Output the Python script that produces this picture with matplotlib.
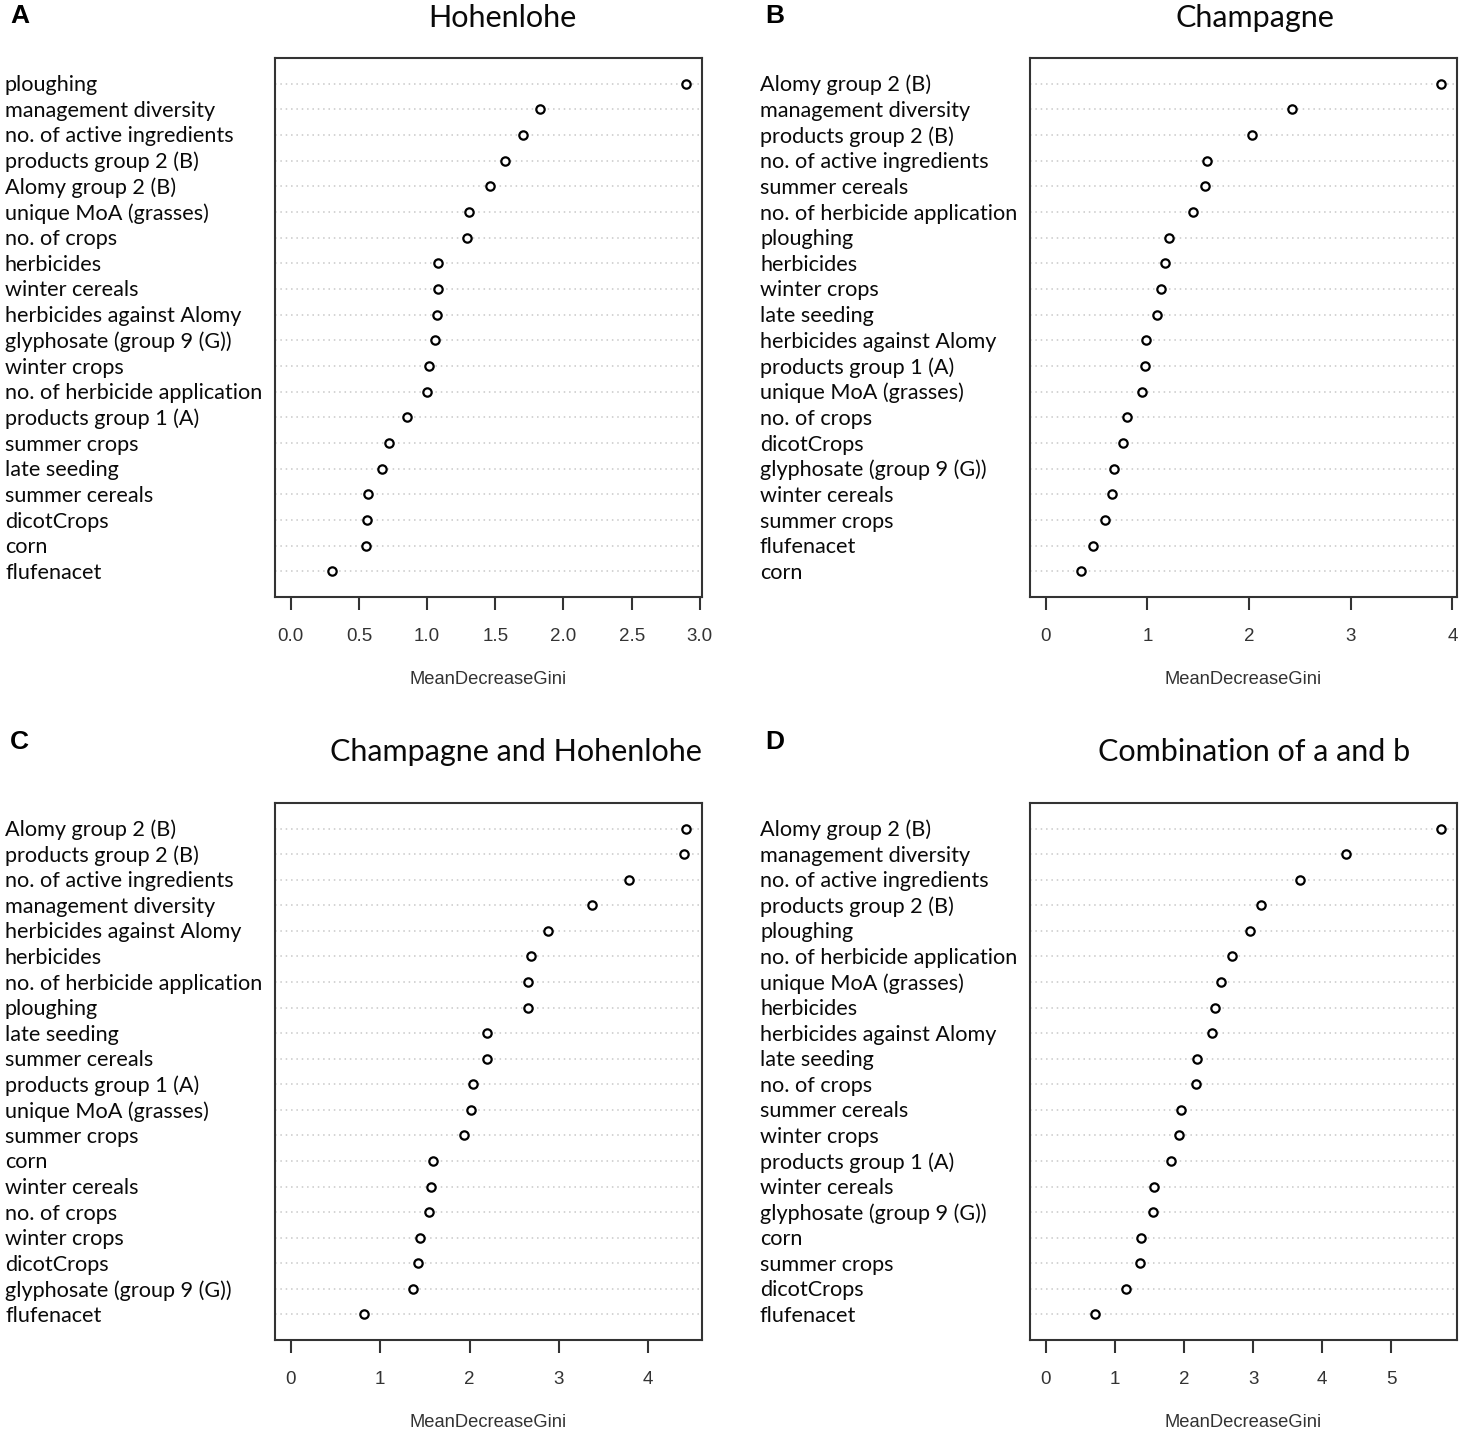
import matplotlib.pyplot as plt

# variable names (top to bottom) and MeanDecreaseGini values per panel
hohenlohe_vars = ["ploughing", "management diversity", "no. of active ingredients",
                  "products group 2 (B)", "Alomy group 2 (B)", "unique MoA (grasses)",
                  "no. of crops", "herbicides", "winter cereals", "herbicides against Alomy",
                  "glyphosate (group 9 (G))", "winter crops", "no. of herbicide application",
                  "products group 1 (A)", "summer crops", "late seeding", "summer cereals",
                  "dicotCrops", "corn", "flufenacet"]
hohenlohe_vals = [2.90, 1.83, 1.70, 1.57, 1.46, 1.31, 1.29, 1.08, 1.08, 1.07,
                  1.055, 1.015, 1.00, 0.85, 0.72, 0.67, 0.565, 0.56, 0.55, 0.30]

champagne_vars = ["Alomy group 2 (B)", "management diversity", "products group 2 (B)",
                  "no. of active ingredients", "summer cereals", "no. of herbicide application",
                  "ploughing", "herbicides", "winter crops", "late seeding",
                  "herbicides against Alomy", "products group 1 (A)", "unique MoA (grasses)",
                  "no. of crops", "dicotCrops", "glyphosate (group 9 (G))", "winter cereals",
                  "summer crops", "flufenacet", "corn"]
champagne_vals = [3.89, 2.42, 2.03, 1.59, 1.57, 1.45, 1.215, 1.175, 1.13, 1.09,
                  0.99, 0.975, 0.945, 0.80, 0.76, 0.67, 0.655, 0.585, 0.46, 0.345]

both_vars = ["Alomy group 2 (B)", "products group 2 (B)", "no. of active ingredients",
             "management diversity", "herbicides against Alomy", "herbicides",
             "no. of herbicide application", "ploughing", "late seeding", "summer cereals",
             "products group 1 (A)", "unique MoA (grasses)", "summer crops", "corn",
             "winter cereals", "no. of crops", "winter crops", "dicotCrops",
             "glyphosate (group 9 (G))", "flufenacet"]
both_vals = [4.425, 4.395, 3.79, 3.37, 2.88, 2.69, 2.655, 2.65, 2.20, 2.195,
             2.035, 2.015, 1.94, 1.595, 1.565, 1.55, 1.45, 1.42, 1.37, 0.82]

combo_vars = ["Alomy group 2 (B)", "management diversity", "no. of active ingredients",
              "products group 2 (B)", "ploughing", "no. of herbicide application",
              "unique MoA (grasses)", "herbicides", "herbicides against Alomy",
              "late seeding", "no. of crops", "summer cereals", "winter crops",
              "products group 1 (A)", "winter cereals", "glyphosate (group 9 (G))",
              "corn", "summer crops", "dicotCrops", "flufenacet"]
combo_vals = [5.72, 4.34, 3.68, 3.12, 2.95, 2.70, 2.53, 2.445, 2.405, 2.19,
              2.17, 1.96, 1.92, 1.81, 1.56, 1.555, 1.37, 1.365, 1.16, 0.71]

panels = [
    ("A", "Hohenlohe", hohenlohe_vars, hohenlohe_vals, [0.0, 0.5, 1.0, 1.5, 2.0, 2.5, 3.0], "%.1f"),
    ("B", "Champagne", champagne_vars, champagne_vals, [0, 1, 2, 3, 4], "%d"),
    ("C", "Champagne and Hohenlohe", both_vars, both_vals, [0, 1, 2, 3, 4], "%d"),
    ("D", "Combination of a and b", combo_vars, combo_vals, [0, 1, 2, 3, 4, 5], "%d"),
]

W, H = 1476, 1441
fig = plt.figure(figsize=(W / 100, H / 100), dpi=100)

label_font = "Lato"
tick_font = "Liberation Sans"

# box in pixels (left, top, right, bottom), label x, letter x/y, title centre x/y
boxes = [
    (275, 58, 702, 597, 5, 10, 16, 502, 18),
    (1030, 58, 1457, 597, 760, 765, 16, 1255, 18),
    (275, 803, 702, 1340, 5, 10, 742, 516, 752),
    (1030, 803, 1457, 1340, 760, 765, 742, 1254, 752),
]

for (letter, title, names, vals, ticks, fmt), (l, t, r, b, lx, ltx, lty, ttx, tty) in zip(panels, boxes):
    ax = fig.add_axes([l / W, 1 - b / H, (r - l) / W, (b - t) / H])
    n = len(vals)
    ypos = list(range(n, 0, -1))
    vmax = max(vals)
    for y in ypos:
        ax.axhline(y, color="#c8c8c8", linestyle=(0, (1, 2.5)), linewidth=1.1, zorder=1)
    ax.plot(vals, ypos, linestyle="none", marker="o", markersize=6,
            markerfacecolor="white", markeredgecolor="black", markeredgewidth=1.6, zorder=3)
    ax.set_xlim(-0.04 * vmax, 1.04 * vmax)
    ax.set_ylim(0, n + 1)
    ax.set_yticks([])
    ax.set_xticks(ticks)
    ax.set_xticklabels([fmt % v for v in ticks], fontsize=13.5, family=tick_font, color="#333333")
    ax.tick_params(axis="x", length=9, width=1.5, pad=13, color="#333333")
    for s in ax.spines.values():
        s.set_linewidth(1.5)
        s.set_color("#333333")
    ax.set_xlabel("MeanDecreaseGini", fontsize=13.2, family=tick_font, color="#333333", labelpad=19)

    # variable labels on the left, left aligned
    for name, y in zip(names, ypos):
        yd = ax.transData.transform((0, y))[1]
        fig.text(lx / W, yd / H - 1.5 / H, name, fontsize=15.6, family=label_font,
                 ha="left", va="center", color="#0a0a0a")

    fig.text(ttx / W, 1 - tty / H, title, fontsize=22, family=label_font,
             ha="center", va="center", color="#0a0a0a")
    fig.text(ltx / W, 1 - lty / H, letter, fontsize=19, fontweight="bold",
             family="Liberation Sans", ha="left", va="center")

fig.savefig("out.png", dpi=100)
